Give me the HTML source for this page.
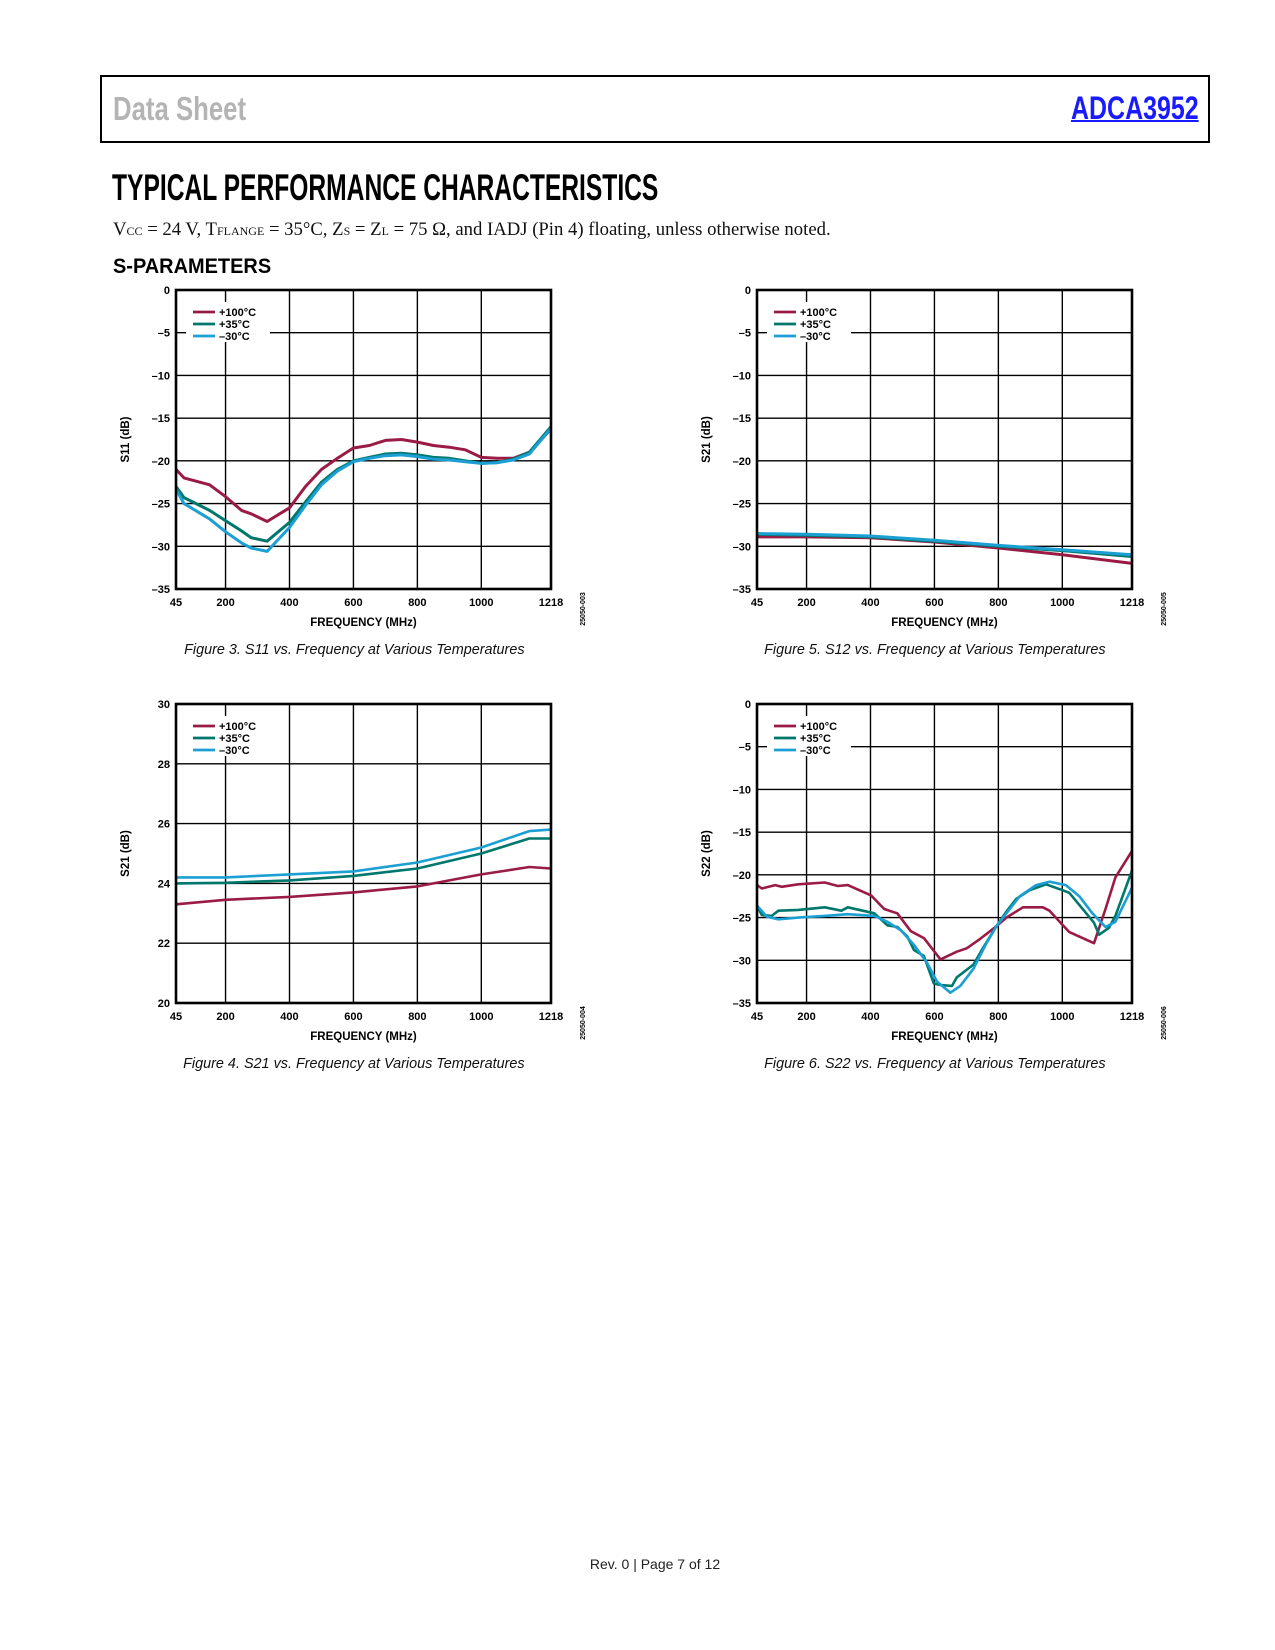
<!DOCTYPE html>
<html><head><meta charset="utf-8">
<style>
html,body{margin:0;padding:0;background:#fff;}
body{width:1275px;height:1650px;position:relative;overflow:hidden;font-family:"Liberation Sans",sans-serif;}
.abs{position:absolute;white-space:nowrap;}
#hdr{position:absolute;left:100px;top:75px;width:1110px;height:68px;border:2px solid #000;box-sizing:border-box;}
.cond{display:inline-block;transform-origin:left center;transform:scaleX(0.78);font-weight:bold;}
.cap{font-family:"Liberation Sans",sans-serif;font-style:italic;font-size:15px;color:#111;text-align:center;width:500px;}
.cap span{display:inline-block;transform:scaleX(0.96);}
svg text{font-family:"Liberation Sans",sans-serif;font-weight:bold;}
</style></head>
<body>
<div id="hdr"></div>
<div class="abs" style="left:113px;top:90px;font-size:33px;color:#b4b4b4;"><span class="cond">Data Sheet</span></div>
<div class="abs" style="left:1071px;top:90px;font-size:32px;color:#1a1aff;"><span class="cond" style="text-decoration:underline;text-decoration-thickness:2px;">ADCA3952</span></div>
<div class="abs" style="left:112px;top:167px;font-size:37px;color:#000;"><span class="cond" style="transform:scaleX(0.665);">TYPICAL PERFORMANCE CHARACTERISTICS</span></div>
<div class="abs" style="left:113px;top:219px;font-family:'Liberation Serif',serif;font-size:18.7px;color:#111;">V<span style="font-size:12px">CC</span> = 24 V, T<span style="font-size:12px">FLANGE</span> = 35°C, Z<span style="font-size:12px">S</span> = Z<span style="font-size:12px">L</span> = 75 Ω, and IADJ (Pin 4) floating, unless otherwise noted.</div>
<div class="abs" style="left:113px;top:255px;font-size:21px;color:#000;"><span class="cond" style="transform:scaleX(0.95);">S-PARAMETERS</span></div>

<svg id="chartsvg" width="1275" height="1650" style="position:absolute;left:0;top:0;"></svg>

<div class="abs cap" style="left:104px;top:641px;"><span>Figure 3. S11 vs. Frequency at Various Temperatures</span></div>
<div class="abs cap" style="left:685px;top:641px;"><span>Figure 5. S12 vs. Frequency at Various Temperatures</span></div>
<div class="abs cap" style="left:104px;top:1055px;"><span>Figure 4. S21 vs. Frequency at Various Temperatures</span></div>
<div class="abs cap" style="left:685px;top:1055px;"><span>Figure 6. S22 vs. Frequency at Various Temperatures</span></div>
<div class="abs" style="left:555px;top:1556px;width:200px;text-align:center;font-size:14px;color:#222;">Rev. 0 | Page 7 of 12</div>

<script>
// ---- Figure 3: S11 ----
const f3Freq = [45,70,150,200,250,280,330,400,450,500,550,600,650,700,750,800,850,900,950,1000,1050,1100,1150,1218];
const f3Hot  = [-21,-22,-22.8,-24.2,-25.8,-26.2,-27.1,-25.5,-23,-21,-19.7,-18.5,-18.2,-17.6,-17.5,-17.8,-18.2,-18.4,-18.7,-19.6,-19.7,-19.7,-19,-16.3];
const f3Room = [-23,-24.3,-25.8,-27,-28.2,-29,-29.4,-27.2,-24.8,-22.5,-21,-20,-19.6,-19.2,-19.1,-19.3,-19.6,-19.7,-20,-20.3,-20.2,-19.8,-19,-16];
const f3Cold = [-23.3,-25,-26.8,-28.3,-29.6,-30.2,-30.6,-27.8,-25.2,-22.8,-21.2,-20.1,-19.7,-19.4,-19.3,-19.5,-19.8,-19.9,-20.1,-20.3,-20.2,-19.9,-19.2,-16.2];
const f3Ticks = [0,-5,-10,-15,-20,-25,-30,-35];
// ---- Figure 5: S12 ----
const f5Freq = [45,200,400,600,800,1000,1218];
const f5Hot  = [-28.9,-28.9,-29.0,-29.5,-30.2,-31.0,-32.0];
const f5Room = [-28.6,-28.7,-28.9,-29.4,-30.0,-30.5,-31.2];
const f5Cold = [-28.5,-28.6,-28.8,-29.3,-29.9,-30.4,-31.0];
// ---- Figure 4: S21 ----
const f4Freq = [45,200,400,600,800,1000,1150,1218];
const f4Hot  = [23.3,23.45,23.55,23.7,23.9,24.3,24.55,24.5];
const f4Room = [24.0,24.02,24.1,24.25,24.5,25.0,25.5,25.5];
const f4Cold = [24.2,24.2,24.3,24.4,24.7,25.2,25.75,25.8];
const f4Ticks = [30,28,26,24,22,20];
// ---- Figure 6: S22 ----
const f6HotFreq  = [45,60,102,122,174,257,298,329,402,443,484,526,567,619,670,701,743,784,825,877,939,960,1022,1099,1135,1166,1218];
const f6Hot      = [-21.2,-21.6,-21.2,-21.4,-21.1,-20.9,-21.3,-21.2,-22.4,-24,-24.5,-26.6,-27.4,-29.9,-29,-28.6,-27.5,-26.3,-25,-23.8,-23.8,-24.2,-26.7,-28,-24,-20.3,-17.2];
const f6RoomFreq = [45,60,91,112,174,257,309,329,412,453,484,515,536,567,598,619,655,670,722,753,794,825,856,898,949,1001,1022,1099,1115,1146,1166,1218];
const f6Room     = [-23.6,-24.7,-24.8,-24.2,-24.1,-23.8,-24.2,-23.8,-24.5,-25.9,-26.1,-27.2,-28.8,-29.5,-32.7,-32.9,-33,-32,-30.5,-28.5,-26,-24.3,-22.8,-21.8,-21.1,-21.8,-22.1,-25.6,-27,-26.2,-24.8,-19.5];
const f6ColdFreq = [45,76,112,174,257,329,412,453,495,536,577,608,650,681,722,763,794,825,867,918,960,1011,1053,1094,1135,1166,1218];
const f6Cold     = [-23.6,-24.9,-25.2,-25,-24.8,-24.6,-24.8,-25.5,-26.5,-28.2,-30.3,-32.5,-33.8,-33,-31,-28,-26,-24.5,-22.5,-21.2,-20.8,-21.2,-22.5,-24.5,-26.1,-25.5,-21.5];
const xTicks = [45,200,400,600,800,1000,1218];
const xGrid = [200,400,600,800,1000];

const NS = "http://www.w3.org/2000/svg";
const svg = document.getElementById('chartsvg');
const RED = '#9a1b44', TEAL = '#00776c', CYAN = '#1c9fd3';

function mk(tag, attrs, parent){
  const e = document.createElementNS(NS, tag);
  for (const k in attrs) e.setAttribute(k, attrs[k]);
  (parent||svg).appendChild(e);
  return e;
}

function drawChart(id, L, T, R, B, ymin, ymax, yTicks, yTitle, code, series, lw){
  const g = mk('g', {});
  
  
  const xs = f => L + (f - 45) / (1218 - 45) * (R - L);
  const ys = v => T + (ymax - v) / (ymax - ymin) * (B - T);
  xGrid.forEach(f => {
    const l = mk('line', {x1: xs(f), x2: xs(f), y1: T, y2: B, stroke: '#000', 'stroke-width': 1.4}, g);
    
    
  });
  yTicks.forEach(v => {
    const l = mk('line', {x1: L, x2: R, y1: ys(v), y2: ys(v), stroke: '#000', 'stroke-width': 1.4}, g);
    
    
    const t = mk('text', {x: L - 6, y: ys(v) + 4, 'text-anchor': 'end', 'font-size': 11}, g);
    t.textContent = (v < 0 ? '\u2013' + (-v) : '' + v);
    
    
  });
  xTicks.forEach(f => {
    const t = mk('text', {x: xs(f), y: B + 17, 'text-anchor': 'middle', 'font-size': 11}, g);
    t.textContent = '' + f;
    
    
  });
  const lb = mk('rect', {x: L + 10, y: T + 12, width: 84, height: 40, fill: '#fff'}, g);
  
  
  series.forEach(s => {
    const pts = s.f.map((f, i) => xs(f).toFixed(1) + ',' + ys(s.v[i]).toFixed(1)).join(' ');
    const p = mk('polyline', {points: pts, fill: 'none', stroke: s.c, 'stroke-width': lw, 'stroke-linejoin': 'round'}, g);
    
    
  });
  const fr = mk('rect', {x: L, y: T, width: R - L, height: B - T, fill: 'none', stroke: '#000', 'stroke-width': 2.6}, g);
  
  
  const labels = ['+100\u00b0C', '+35\u00b0C', '\u201330\u00b0C'];
  series.forEach((s, i) => {
    const yy = T + 22 + i * 12;
    const ln = mk('line', {x1: L + 17, x2: L + 39, y1: yy, y2: yy, stroke: s.c, 'stroke-width': 2.8}, g);
    
    
    const t = mk('text', {x: L + 43, y: yy + 4, 'font-size': 11}, g);
    t.textContent = labels[i];
    
    
  });
  const xt = mk('text', {x: (L + R) / 2, y: B + 37, 'text-anchor': 'middle', 'font-size': 11.5}, g);
  xt.textContent = 'FREQUENCY (MHz)';
  
  
  const yt = mk('text', {x: 0, y: 0, 'text-anchor': 'middle', 'font-size': 11.5, transform: 'translate(' + (L - 47) + ',' + ((T + B) / 2) + ') rotate(-90)'}, g);
  yt.textContent = yTitle;
  
  
  const ct = mk('text', {x: 0, y: 0, 'text-anchor': 'middle', 'font-size': 7, 'font-weight': 'normal', transform: 'translate(' + (R + 34) + ',' + (B + 20) + ') rotate(-90)'}, g);
  ct.textContent = code;
  
  
}

drawChart('chart-s11', 176, 290, 551, 589, -35, 0, f3Ticks, 'S11 (dB)', '25050-003', [
  {n: 'hot', f: f3Freq, v: f3Hot, c: RED},
  {n: 'room', f: f3Freq, v: f3Room, c: TEAL},
  {n: 'cold', f: f3Freq, v: f3Cold, c: CYAN}], 3);
drawChart('chart-s12', 757, 290, 1132, 589, -35, 0, f3Ticks, 'S21 (dB)', '25050-005', [
  {n: 'hot', f: f5Freq, v: f5Hot, c: RED},
  {n: 'room', f: f5Freq, v: f5Room, c: TEAL},
  {n: 'cold', f: f5Freq, v: f5Cold, c: CYAN}], 3);
drawChart('chart-s21', 176, 704, 551, 1003, 20, 30, f4Ticks, 'S21 (dB)', '25050-004', [
  {n: 'hot', f: f4Freq, v: f4Hot, c: RED},
  {n: 'room', f: f4Freq, v: f4Room, c: TEAL},
  {n: 'cold', f: f4Freq, v: f4Cold, c: CYAN}], 2.6);
drawChart('chart-s22', 757, 704, 1132, 1003, -35, 0, f3Ticks, 'S22 (dB)', '25050-006', [
  {n: 'hot', f: f6HotFreq, v: f6Hot, c: RED},
  {n: 'room', f: f6RoomFreq, v: f6Room, c: TEAL},
  {n: 'cold', f: f6ColdFreq, v: f6Cold, c: CYAN}], 2.6);
</script>
</body></html>
